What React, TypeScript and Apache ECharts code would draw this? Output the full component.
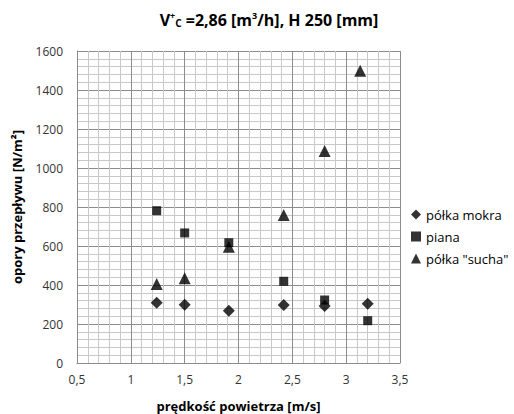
import React, { useEffect, useRef } from "react";
import * as echarts from "echarts";

const xMokra = [1.24, 1.5, 1.91, 2.42, 2.8, 3.2];
const yMokra = [309, 299, 268, 297, 292, 304];
const xPiana = [1.24, 1.5, 1.91, 2.42, 2.8, 3.2];
const yPiana = [781, 667, 617, 419, 323, 217];
const xSucha = [1.24, 1.5, 1.91, 2.42, 2.8, 3.13];
const ySucha = [405, 434, 596, 759, 1087, 1499];
const seriesNames = ["półka mokra", "piana", 'półka "sucha"'];

const FONT = "Open Sans";

export default function App() {
  const ref = useRef<HTMLDivElement>(null);
  useEffect(() => {
    if (!ref.current) return;
    const chart = echarts.init(ref.current, null, { renderer: "svg" });
    const pair = (xs: number[], ys: number[]) => xs.map((x, i) => [x, ys[i]]);
    chart.setOption({
      animation: false,
      backgroundColor: "#fff",
      textStyle: { fontFamily: FONT },
      title: {
        text: "{b|V}{sup|+}{sub|C}{b| =2,86 [m}{sup|3}{b|/h], H 250 [mm]}",
        left: 264,
        textAlign: "center",
        top: 6,
        textStyle: {
          rich: {
            b: { fontFamily: FONT, fontSize: 16, fontWeight: "bold", color: "#000" },
            sup: { fontFamily: FONT, fontSize: 9, fontWeight: "bold", color: "#000", padding: [0, 0, 8, 0] },
            sub: { fontFamily: FONT, fontSize: 10, fontWeight: "bold", color: "#000", padding: [7, 0, 0, 0] },
          },
        },
      },
      grid: { left: 77, right: 114, top: 51, bottom: 51, outerBoundsMode: "none", containLabel: false },
      legend: {
        orient: "vertical",
        left: 406,
        top: 203,
        itemGap: 9,
        itemWidth: 10,
        itemHeight: 10,
        textStyle: { fontFamily: FONT, fontSize: 13, color: "#000" },
        data: [
          { name: seriesNames[0], icon: "diamond" },
          { name: seriesNames[1], icon: "rect" },
          { name: seriesNames[2], icon: "triangle" },
        ],
      },
      xAxis: {
        type: "value",
        min: 0.5,
        max: 3.5,
        interval: 0.5,
        name: "prędkość powietrza [m/s]",
        nameLocation: "middle",
        nameGap: 36,
        nameTextStyle: { fontFamily: FONT, fontSize: 13, fontWeight: "bold", color: "#000" },
        axisLabel: {
          fontFamily: FONT,
          fontSize: 12,
          color: "#333",
          margin: 10,
          formatter: (v: number) => String(v).replace(".", ","),
        },
        axisLine: { show: true, lineStyle: { color: "#8c8c8c" } },
        axisTick: { show: false },
        splitLine: { show: true, lineStyle: { color: "#8c8c8c", width: 1 } },
        minorTick: { show: false, splitNumber: 5 },
        minorSplitLine: { show: true, lineStyle: { color: "#c8c8c8", width: 1 } },
      },
      yAxis: {
        type: "value",
        min: 0,
        max: 1600,
        interval: 200,
        name: "opory przepływu [N/m²]",
        nameLocation: "middle",
        nameGap: 54,
        nameTextStyle: { fontFamily: FONT, fontSize: 13, fontWeight: "bold", color: "#000" },
        axisLabel: {
          fontFamily: FONT,
          fontSize: 12,
          color: "#333",
          margin: 14,
          formatter: (v: number) => String(v),
        },
        axisLine: { show: true, lineStyle: { color: "#8c8c8c" } },
        axisTick: { show: false },
        splitLine: { show: true, lineStyle: { color: "#8c8c8c", width: 1 } },
        minorTick: { show: false, splitNumber: 5 },
        minorSplitLine: { show: true, lineStyle: { color: "#c8c8c8", width: 1 } },
      },
      series: [
        {
          name: seriesNames[0],
          type: "scatter",
          symbol: "diamond",
          symbolSize: 12,
          itemStyle: { color: "#000" },
          data: pair(xMokra, yMokra),
          z: 3,
        },
        {
          name: seriesNames[1],
          type: "scatter",
          symbol: "rect",
          symbolSize: 9,
          itemStyle: { color: "#000" },
          data: pair(xPiana, yPiana),
          z: 4,
        },
        {
          name: seriesNames[2],
          type: "scatter",
          symbol: "triangle",
          symbolSize: 12,
          itemStyle: { color: "#000" },
          data: pair(xSucha, ySucha),
          z: 2,
        },
      ],
    });
    return () => chart.dispose();
  }, []);
  return <div ref={ref} style={{ width: 514, height: 414, position: "absolute", left: 0, top: 0 }} />;
}
